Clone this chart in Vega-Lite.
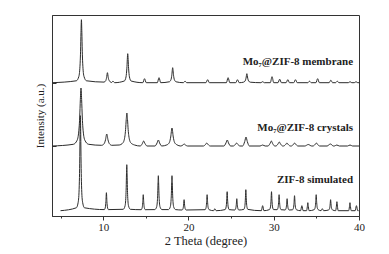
{
  "$schema": "https://vega.github.io/schema/vega-lite/v6.json",
  "width": 307,
  "height": 201,
  "autosize": {"type": "none"},
  "padding": {"left": 52, "top": 15, "right": 30, "bottom": 38},
  "background": "white",
  "view": {"stroke": "#333", "strokeWidth": 1},
  "config": {
    "font": "Liberation Serif",
    "axis": {"domainColor": "#333", "tickColor": "#333", "labelColor": "#222", "titleColor": "#222", "labelFont": "Liberation Serif", "titleFont": "Liberation Serif", "grid": false}
  },
  "datasets": {
    "curves": [
      {"s":"membrane","x":4,"y":133.3},
      {"s":"membrane","x":6.85,"y":135.2},{"s":"membrane","x":7.15,"y":139.6},{"s":"membrane","x":7.3,"y":152.8},{"s":"membrane","x":7.35,"y":164.8},{"s":"membrane","x":7.4,"y":183.7},{"s":"membrane","x":7.45,"y":196.3},{"s":"membrane","x":7.5,"y":183.7},{"s":"membrane","x":7.55,"y":164.8},{"s":"membrane","x":7.6,"y":152.8},{"s":"membrane","x":7.75,"y":139.6},{"s":"membrane","x":8.05,"y":135.2},
      {"s":"membrane","x":10.1,"y":133.9},{"s":"membrane","x":10.3,"y":135.3},{"s":"membrane","x":10.4,"y":138.3},{"s":"membrane","x":10.5,"y":143.3},{"s":"membrane","x":10.6,"y":138.3},{"s":"membrane","x":10.7,"y":135.3},{"s":"membrane","x":10.9,"y":133.9},
      {"s":"membrane","x":10.95,"y":133.3},{"s":"membrane","x":11.15,"y":134.8},{"s":"membrane","x":11.35,"y":133.3},
      {"s":"membrane","x":12.48,"y":135.0},{"s":"membrane","x":12.68,"y":139.1},{"s":"membrane","x":12.78,"y":147.8},{"s":"membrane","x":12.88,"y":162.3},{"s":"membrane","x":12.98,"y":147.8},{"s":"membrane","x":13.08,"y":139.1},{"s":"membrane","x":13.28,"y":135.0},
      {"s":"membrane","x":14.65,"y":133.3},{"s":"membrane","x":14.85,"y":137.3},{"s":"membrane","x":15.05,"y":133.3},
      {"s":"membrane","x":16.35,"y":133.3},{"s":"membrane","x":16.55,"y":138.3},{"s":"membrane","x":16.75,"y":133.3},
      {"s":"membrane","x":17.75,"y":134.2},{"s":"membrane","x":17.95,"y":136.3},{"s":"membrane","x":18.05,"y":140.8},{"s":"membrane","x":18.15,"y":148.3},{"s":"membrane","x":18.25,"y":140.8},{"s":"membrane","x":18.35,"y":136.3},{"s":"membrane","x":18.55,"y":134.2},
      {"s":"membrane","x":19.4,"y":133.3},{"s":"membrane","x":19.6,"y":134.8},{"s":"membrane","x":19.8,"y":133.3},
      {"s":"membrane","x":22.05,"y":133.3},{"s":"membrane","x":22.25,"y":136.3},{"s":"membrane","x":22.45,"y":133.3},
      {"s":"membrane","x":24.45,"y":133.3},{"s":"membrane","x":24.65,"y":138.3},{"s":"membrane","x":24.85,"y":133.3},
      {"s":"membrane","x":25.55,"y":133.3},{"s":"membrane","x":25.75,"y":136.3},{"s":"membrane","x":25.95,"y":133.3},
      {"s":"membrane","x":26.45,"y":133.8},{"s":"membrane","x":26.65,"y":135.1},{"s":"membrane","x":26.75,"y":137.8},{"s":"membrane","x":26.85,"y":142.3},{"s":"membrane","x":26.95,"y":137.8},{"s":"membrane","x":27.05,"y":135.1},{"s":"membrane","x":27.25,"y":133.8},
      {"s":"membrane","x":28.5,"y":133.3},{"s":"membrane","x":28.7,"y":134.3},{"s":"membrane","x":28.9,"y":133.3},
      {"s":"membrane","x":29.6,"y":133.3},{"s":"membrane","x":29.8,"y":139.3},{"s":"membrane","x":30.0,"y":133.3},
      {"s":"membrane","x":30.5,"y":133.3},{"s":"membrane","x":30.7,"y":136.8},{"s":"membrane","x":30.9,"y":133.3},
      {"s":"membrane","x":31.45,"y":133.3},{"s":"membrane","x":31.65,"y":136.3},{"s":"membrane","x":31.85,"y":133.3},
      {"s":"membrane","x":32.35,"y":133.3},{"s":"membrane","x":32.55,"y":136.3},{"s":"membrane","x":32.75,"y":133.3},
      {"s":"membrane","x":34.0,"y":133.3},{"s":"membrane","x":34.2,"y":134.8},{"s":"membrane","x":34.4,"y":133.3},
      {"s":"membrane","x":34.95,"y":133.3},{"s":"membrane","x":35.15,"y":137.3},{"s":"membrane","x":35.35,"y":133.3},
      {"s":"membrane","x":36.5,"y":133.3},{"s":"membrane","x":36.7,"y":135.8},{"s":"membrane","x":36.9,"y":133.3},
      {"s":"membrane","x":37.25,"y":133.3},{"s":"membrane","x":37.45,"y":134.8},{"s":"membrane","x":37.65,"y":133.3},
      {"s":"membrane","x":38.75,"y":133.3},{"s":"membrane","x":38.95,"y":134.3},{"s":"membrane","x":39.15,"y":133.3},
      {"s":"membrane","x":39.45,"y":133.3},{"s":"membrane","x":39.65,"y":134.3},{"s":"membrane","x":39.85,"y":133.3},
      {"s":"membrane","x":40,"y":133.3},

      {"s":"crystals","x":4,"y":70},
      {"s":"crystals","x":6.5,"y":71.7},{"s":"crystals","x":6.95,"y":75.8},{"s":"crystals","x":7.175,"y":88},{"s":"crystals","x":7.25,"y":99},{"s":"crystals","x":7.325,"y":116.4},{"s":"crystals","x":7.4,"y":128},{"s":"crystals","x":7.475,"y":116.4},{"s":"crystals","x":7.55,"y":99},{"s":"crystals","x":7.625,"y":88},{"s":"crystals","x":7.85,"y":75.8},{"s":"crystals","x":8.3,"y":71.7},
      {"s":"crystals","x":9.82,"y":70.7},{"s":"crystals","x":10.12,"y":72.4},{"s":"crystals","x":10.27,"y":76},{"s":"crystals","x":10.42,"y":82},{"s":"crystals","x":10.57,"y":76},{"s":"crystals","x":10.72,"y":72.4},{"s":"crystals","x":11.02,"y":70.7},
      {"s":"crystals","x":11.88,"y":71},{"s":"crystals","x":12.33,"y":73.3},{"s":"crystals","x":12.555,"y":80.2},{"s":"crystals","x":12.63,"y":86.5},{"s":"crystals","x":12.705,"y":96.4},{"s":"crystals","x":12.78,"y":103},{"s":"crystals","x":12.855,"y":96.4},{"s":"crystals","x":12.93,"y":86.5},{"s":"crystals","x":13.005,"y":80.2},{"s":"crystals","x":13.23,"y":73.3},{"s":"crystals","x":13.68,"y":71},
      {"s":"crystals","x":14.35,"y":70},{"s":"crystals","x":14.6,"y":72.5},{"s":"crystals","x":14.75,"y":75},{"s":"crystals","x":14.9,"y":72.5},{"s":"crystals","x":15.15,"y":70},
      {"s":"crystals","x":16.07,"y":70},{"s":"crystals","x":16.32,"y":73},{"s":"crystals","x":16.47,"y":76},{"s":"crystals","x":16.62,"y":73},{"s":"crystals","x":16.87,"y":70},
      {"s":"crystals","x":17.47,"y":71.1},{"s":"crystals","x":17.77,"y":73.6},{"s":"crystals","x":17.92,"y":79},{"s":"crystals","x":18.07,"y":88},{"s":"crystals","x":18.22,"y":79},{"s":"crystals","x":18.37,"y":73.6},{"s":"crystals","x":18.67,"y":71.1},
      {"s":"crystals","x":19.1,"y":70},{"s":"crystals","x":19.35,"y":71},{"s":"crystals","x":19.5,"y":72},{"s":"crystals","x":19.65,"y":71},{"s":"crystals","x":19.9,"y":70},
      {"s":"crystals","x":21.75,"y":70},{"s":"crystals","x":22.0,"y":71.5},{"s":"crystals","x":22.15,"y":73},{"s":"crystals","x":22.3,"y":71.5},{"s":"crystals","x":22.55,"y":70},
      {"s":"crystals","x":24.15,"y":70},{"s":"crystals","x":24.4,"y":73},{"s":"crystals","x":24.55,"y":76},{"s":"crystals","x":24.7,"y":73},{"s":"crystals","x":24.95,"y":70},
      {"s":"crystals","x":25.25,"y":70},{"s":"crystals","x":25.5,"y":71.5},{"s":"crystals","x":25.65,"y":73},{"s":"crystals","x":25.8,"y":71.5},{"s":"crystals","x":26.05,"y":70},
      {"s":"crystals","x":26.35,"y":70},{"s":"crystals","x":26.6,"y":74.5},{"s":"crystals","x":26.75,"y":79},{"s":"crystals","x":26.9,"y":74.5},{"s":"crystals","x":27.15,"y":70},
      {"s":"crystals","x":28.4,"y":70},{"s":"crystals","x":28.7,"y":71},{"s":"crystals","x":29.0,"y":70},
      {"s":"crystals","x":29.32,"y":70},{"s":"crystals","x":29.57,"y":72.5},{"s":"crystals","x":29.72,"y":75},{"s":"crystals","x":29.87,"y":72.5},{"s":"crystals","x":30.12,"y":70},
      {"s":"crystals","x":30.25,"y":70},{"s":"crystals","x":30.5,"y":72},{"s":"crystals","x":30.65,"y":74},{"s":"crystals","x":30.8,"y":72},{"s":"crystals","x":31.05,"y":70},
      {"s":"crystals","x":31.15,"y":70},{"s":"crystals","x":31.4,"y":71.5},{"s":"crystals","x":31.55,"y":73},{"s":"crystals","x":31.7,"y":71.5},{"s":"crystals","x":31.95,"y":70},
      {"s":"crystals","x":32.05,"y":70},{"s":"crystals","x":32.3,"y":71.5},{"s":"crystals","x":32.45,"y":73},{"s":"crystals","x":32.6,"y":71.5},{"s":"crystals","x":32.85,"y":70},
      {"s":"crystals","x":33.65,"y":70},{"s":"crystals","x":34.05,"y":71.5},{"s":"crystals","x":34.45,"y":70},
      {"s":"crystals","x":34.6,"y":70},{"s":"crystals","x":34.85,"y":71.5},{"s":"crystals","x":35.0,"y":73},{"s":"crystals","x":35.15,"y":71.5},{"s":"crystals","x":35.4,"y":70},
      {"s":"crystals","x":36.25,"y":70},{"s":"crystals","x":36.65,"y":72},{"s":"crystals","x":37.0,"y":70},
      {"s":"crystals","x":37.1,"y":70},{"s":"crystals","x":37.4,"y":71},{"s":"crystals","x":37.7,"y":70},
      {"s":"crystals","x":38.65,"y":70},{"s":"crystals","x":38.95,"y":71},{"s":"crystals","x":39.25,"y":70},
      {"s":"crystals","x":40,"y":70},

      {"s":"simulated","x":5,"y":5.3},
      {"s":"simulated","x":6.85,"y":8.2},{"s":"simulated","x":7.09,"y":14.8},{"s":"simulated","x":7.21,"y":34.8},{"s":"simulated","x":7.25,"y":52.8},{"s":"simulated","x":7.29,"y":81.3},{"s":"simulated","x":7.33,"y":100.3},{"s":"simulated","x":7.37,"y":81.3},{"s":"simulated","x":7.41,"y":52.8},{"s":"simulated","x":7.45,"y":34.8},{"s":"simulated","x":7.57,"y":14.8},{"s":"simulated","x":7.81,"y":8.2},
      {"s":"simulated","x":10.14,"y":6.4},{"s":"simulated","x":10.26,"y":8.9},{"s":"simulated","x":10.32,"y":14.3},{"s":"simulated","x":10.38,"y":23.3},{"s":"simulated","x":10.44,"y":14.3},{"s":"simulated","x":10.5,"y":8.9},{"s":"simulated","x":10.62,"y":6.4},
      {"s":"simulated","x":12.35,"y":6.7},{"s":"simulated","x":12.56,"y":9.9},{"s":"simulated","x":12.665,"y":19.6},{"s":"simulated","x":12.7,"y":28.3},{"s":"simulated","x":12.735,"y":42.1},{"s":"simulated","x":12.77,"y":51.3},{"s":"simulated","x":12.805,"y":42.1},{"s":"simulated","x":12.84,"y":28.3},{"s":"simulated","x":12.875,"y":19.6},{"s":"simulated","x":12.98,"y":9.9},{"s":"simulated","x":13.19,"y":6.7},
      {"s":"simulated","x":14.46,"y":6.3},{"s":"simulated","x":14.58,"y":8.5},{"s":"simulated","x":14.64,"y":13.3},{"s":"simulated","x":14.7,"y":21.3},{"s":"simulated","x":14.76,"y":13.3},{"s":"simulated","x":14.82,"y":8.5},{"s":"simulated","x":14.94,"y":6.3},
      {"s":"simulated","x":16.05,"y":6.4},{"s":"simulated","x":16.26,"y":8.8},{"s":"simulated","x":16.365,"y":16.2},{"s":"simulated","x":16.4,"y":22.8},{"s":"simulated","x":16.435,"y":33.3},{"s":"simulated","x":16.47,"y":40.3},{"s":"simulated","x":16.505,"y":33.3},{"s":"simulated","x":16.54,"y":22.8},{"s":"simulated","x":16.575,"y":16.2},{"s":"simulated","x":16.68,"y":8.8},{"s":"simulated","x":16.89,"y":6.4},
      {"s":"simulated","x":17.65,"y":6.4},{"s":"simulated","x":17.86,"y":8.8},{"s":"simulated","x":17.965,"y":16.2},{"s":"simulated","x":18.0,"y":22.8},{"s":"simulated","x":18.035,"y":33.3},{"s":"simulated","x":18.07,"y":40.3},{"s":"simulated","x":18.105,"y":33.3},{"s":"simulated","x":18.14,"y":22.8},{"s":"simulated","x":18.175,"y":16.2},{"s":"simulated","x":18.28,"y":8.8},{"s":"simulated","x":18.49,"y":6.4},
      {"s":"simulated","x":19.25,"y":6.0},{"s":"simulated","x":19.37,"y":7.5},{"s":"simulated","x":19.43,"y":10.8},{"s":"simulated","x":19.49,"y":16.3},{"s":"simulated","x":19.55,"y":10.8},{"s":"simulated","x":19.61,"y":7.5},{"s":"simulated","x":19.73,"y":6.0},
      {"s":"simulated","x":21.95,"y":6.3},{"s":"simulated","x":22.07,"y":8.5},{"s":"simulated","x":22.13,"y":13.3},{"s":"simulated","x":22.19,"y":21.3},{"s":"simulated","x":22.25,"y":13.3},{"s":"simulated","x":22.31,"y":8.5},{"s":"simulated","x":22.43,"y":6.3},
      {"s":"simulated","x":22.95,"y":5.3},{"s":"simulated","x":23.1,"y":7.3},{"s":"simulated","x":23.25,"y":5.3},
      {"s":"simulated","x":24.3,"y":6.4},{"s":"simulated","x":24.42,"y":9.1},{"s":"simulated","x":24.48,"y":14.8},{"s":"simulated","x":24.54,"y":24.3},{"s":"simulated","x":24.6,"y":14.8},{"s":"simulated","x":24.66,"y":9.1},{"s":"simulated","x":24.78,"y":6.4},
      {"s":"simulated","x":25.43,"y":6.0},{"s":"simulated","x":25.55,"y":7.7},{"s":"simulated","x":25.61,"y":11.3},{"s":"simulated","x":25.67,"y":17.3},{"s":"simulated","x":25.73,"y":11.3},{"s":"simulated","x":25.79,"y":7.7},{"s":"simulated","x":25.91,"y":6.0},
      {"s":"simulated","x":26.49,"y":6.6},{"s":"simulated","x":26.61,"y":9.5},{"s":"simulated","x":26.67,"y":15.8},{"s":"simulated","x":26.73,"y":26.3},{"s":"simulated","x":26.79,"y":15.8},{"s":"simulated","x":26.85,"y":9.5},{"s":"simulated","x":26.97,"y":6.6},
      {"s":"simulated","x":28.55,"y":5.3},{"s":"simulated","x":28.7,"y":10.3},{"s":"simulated","x":28.85,"y":5.3},
      {"s":"simulated","x":29.5,"y":6.4},{"s":"simulated","x":29.62,"y":9.1},{"s":"simulated","x":29.68,"y":14.8},{"s":"simulated","x":29.74,"y":24.3},{"s":"simulated","x":29.8,"y":14.8},{"s":"simulated","x":29.86,"y":9.1},{"s":"simulated","x":29.98,"y":6.4},
      {"s":"simulated","x":30.39,"y":6.3},{"s":"simulated","x":30.51,"y":8.5},{"s":"simulated","x":30.57,"y":13.3},{"s":"simulated","x":30.63,"y":21.3},{"s":"simulated","x":30.69,"y":13.3},{"s":"simulated","x":30.75,"y":8.5},{"s":"simulated","x":30.87,"y":6.3},
      {"s":"simulated","x":31.33,"y":6.0},{"s":"simulated","x":31.45,"y":7.7},{"s":"simulated","x":31.51,"y":11.3},{"s":"simulated","x":31.57,"y":17.3},{"s":"simulated","x":31.63,"y":11.3},{"s":"simulated","x":31.69,"y":7.7},{"s":"simulated","x":31.81,"y":6.0},
      {"s":"simulated","x":32.2,"y":6.2},{"s":"simulated","x":32.32,"y":8.3},{"s":"simulated","x":32.38,"y":12.8},{"s":"simulated","x":32.44,"y":20.3},{"s":"simulated","x":32.5,"y":12.8},{"s":"simulated","x":32.56,"y":8.3},{"s":"simulated","x":32.68,"y":6.2},
      {"s":"simulated","x":33.15,"y":5.3},{"s":"simulated","x":33.3,"y":10.3},{"s":"simulated","x":33.45,"y":5.3},
      {"s":"simulated","x":33.85,"y":5.3},{"s":"simulated","x":33.94,"y":9.3},{"s":"simulated","x":34.0,"y":13.3},{"s":"simulated","x":34.06,"y":9.3},{"s":"simulated","x":34.15,"y":5.3},
      {"s":"simulated","x":34.74,"y":6.3},{"s":"simulated","x":34.86,"y":8.5},{"s":"simulated","x":34.92,"y":13.3},{"s":"simulated","x":34.98,"y":21.3},{"s":"simulated","x":35.04,"y":13.3},{"s":"simulated","x":35.1,"y":8.5},{"s":"simulated","x":35.22,"y":6.3},
      {"s":"simulated","x":35.55,"y":5.3},{"s":"simulated","x":35.7,"y":7.3},{"s":"simulated","x":35.85,"y":5.3},
      {"s":"simulated","x":36.43,"y":6.0},{"s":"simulated","x":36.55,"y":7.5},{"s":"simulated","x":36.61,"y":10.8},{"s":"simulated","x":36.67,"y":16.3},{"s":"simulated","x":36.73,"y":10.8},{"s":"simulated","x":36.79,"y":7.5},{"s":"simulated","x":36.91,"y":6.0},
      {"s":"simulated","x":37.26,"y":5.3},{"s":"simulated","x":37.35,"y":9.8},{"s":"simulated","x":37.41,"y":14.3},{"s":"simulated","x":37.47,"y":9.8},{"s":"simulated","x":37.56,"y":5.3},
      {"s":"simulated","x":38.79,"y":5.3},{"s":"simulated","x":38.88,"y":9.3},{"s":"simulated","x":38.94,"y":13.3},{"s":"simulated","x":39.0,"y":9.3},{"s":"simulated","x":39.09,"y":5.3},
      {"s":"simulated","x":39.55,"y":5.3},{"s":"simulated","x":39.7,"y":10.3},{"s":"simulated","x":39.85,"y":5.3},
      {"s":"simulated","x":39.95,"y":5.3}
    ],
    "labels": [
      {"label": "Mo₇@ZIF-8 membrane", "x": 39.3, "y": 154.3},
      {"label": "Mo₇@ZIF-8 crystals", "x": 39.3, "y": 88},
      {"label": "ZIF-8 simulated", "x": 39.3, "y": 36}
    ]
  },
  "layer": [
    {
      "data": {"name": "curves"},
      "mark": {"type": "line", "interpolate": "monotone", "color": "#2b2b2b", "strokeWidth": 1},
      "encoding": {
        "x": {
          "field": "x", "type": "quantitative",
          "scale": {"domain": [4, 40], "nice": false, "zero": false},
          "axis": {
            "title": "2 Theta (degree)", "titleFontSize": 12.5, "titleFontWeight": "normal", "titlePadding": 2,
            "values": [5, 10, 15, 20, 25, 30, 35, 40],
            "labelExpr": "datum.value % 10 === 0 ? datum.label : ''",
            "tickSize": {"condition": {"test": "datum.value % 10 === 0", "value": 4}, "value": 2},
            "labelFontSize": 11, "labelPadding": 1, "labelFlush": false, "labelOverlap": false
          }
        },
        "y": {
          "field": "y", "type": "quantitative",
          "scale": {"domain": [0, 201], "nice": false, "zero": false},
          "axis": {
            "title": "Intensity (a.u.)", "titleFontSize": 11, "titleFontWeight": "normal", "titlePadding": 6,
            "values": [70, 133.3], "labels": false, "tickSize": -4
          }
        },
        "detail": {"field": "s"}
      }
    },
    {
      "data": {"name": "labels"},
      "mark": {"type": "text", "align": "right", "baseline": "middle", "fontWeight": "bold", "fontSize": 11, "font": "Liberation Serif", "color": "#222"},
      "encoding": {
        "x": {"field": "x", "type": "quantitative"},
        "y": {"field": "y", "type": "quantitative"},
        "text": {"field": "label"}
      }
    }
  ]
}
